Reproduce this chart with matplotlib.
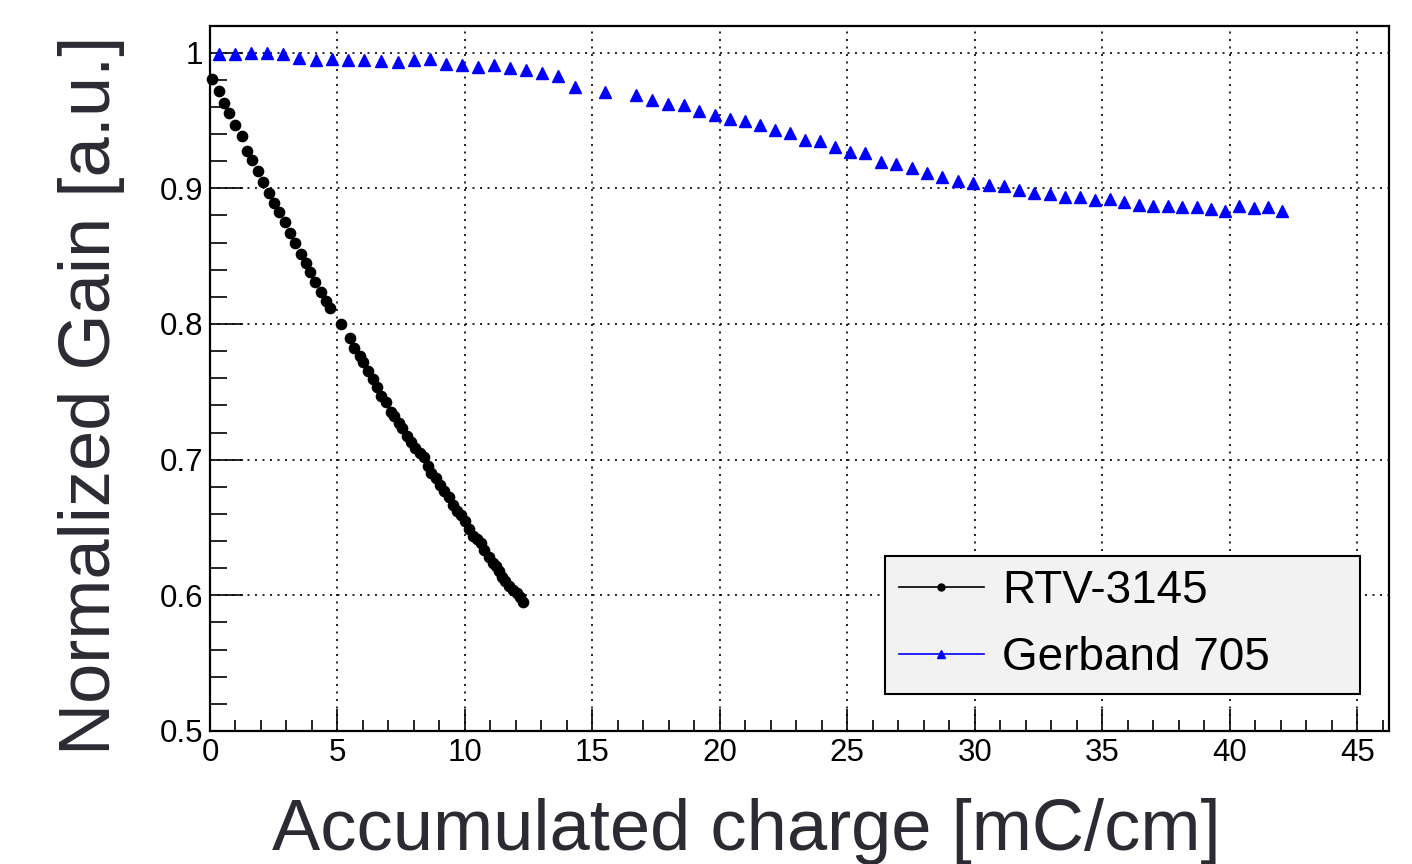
import matplotlib.pyplot as plt
from matplotlib.lines import Line2D
from matplotlib.ticker import MultipleLocator

plt.rcParams['font.family'] = ['Liberation Sans', 'DejaVu Sans']

# RTV-3145 (black circles)
rtv_charge = [0.09, 0.37, 0.55, 0.76, 0.99, 1.24, 1.46, 1.66, 1.88, 2.09, 2.30, 2.51,
              2.72, 2.93, 3.14, 3.35, 3.56, 3.76, 3.92, 4.13, 4.37, 4.55, 4.72, 5.12,
              5.50, 5.65, 5.87, 6.01, 6.21, 6.39, 6.55, 6.72, 6.90, 7.10, 7.23, 7.41,
              7.53, 7.71, 7.87, 8.04, 8.24, 8.39, 8.54, 8.68, 8.86, 9.02, 9.18, 9.36,
              9.54, 9.69, 9.83, 10.00, 10.17, 10.30, 10.47, 10.63, 10.76, 10.93, 11.09,
              11.22, 11.33, 11.45, 11.58, 11.74, 11.89, 12.05, 12.16, 12.29]
rtv_gain = [0.9808, 0.9717, 0.9628, 0.9554, 0.9463, 0.9382, 0.9276, 0.9205, 0.9128,
            0.9049, 0.8968, 0.8889, 0.8826, 0.8752, 0.8673, 0.8597, 0.8516, 0.8451,
            0.8385, 0.8309, 0.8239, 0.8168, 0.8119, 0.8003, 0.7897, 0.7826, 0.7764,
            0.7718, 0.7654, 0.7592, 0.7538, 0.7471, 0.7427, 0.7353, 0.7319, 0.7270,
            0.7230, 0.7176, 0.7131, 0.7087, 0.7046, 0.7018, 0.6952, 0.6903, 0.6861,
            0.6812, 0.6767, 0.6721, 0.6664, 0.6625, 0.6590, 0.6551, 0.6492, 0.6440,
            0.6413, 0.6388, 0.6332, 0.6280, 0.6241, 0.6219, 0.6182, 0.6134, 0.6103,
            0.6066, 0.6041, 0.6016, 0.5990, 0.5953]

# Gerband 705 (blue triangles)
gerband_charge = [0.35, 0.98, 1.60, 2.22, 2.88, 3.49, 4.14, 4.78, 5.42, 6.05, 6.71, 7.36,
                  8.00, 8.63, 9.27, 9.90, 10.52, 11.14, 11.76, 12.40, 13.03, 13.67, 14.33,
                  15.49, 16.73, 17.35, 17.96, 18.58, 19.19, 19.80, 20.40, 20.99, 21.59,
                  22.17, 22.76, 23.35, 23.92, 24.52, 25.10, 25.71, 26.31, 26.91, 27.52,
                  28.12, 28.72, 29.33, 29.95, 30.55, 31.15, 31.74, 32.34, 32.95, 33.54,
                  34.12, 34.72, 35.31, 35.87, 36.46, 37.01, 37.58, 38.14, 38.71, 39.25,
                  39.82, 40.38, 40.94, 41.50, 42.07]
gerband_gain = [0.9990, 0.9987, 0.9995, 1.0000, 0.9990, 0.9960, 0.9943, 0.9950, 0.9943,
                0.9948, 0.9936, 0.9928, 0.9948, 0.9953, 0.9914, 0.9909, 0.9894, 0.9911,
                0.9889, 0.9872, 0.9850, 0.9825, 0.9746, 0.9712, 0.9685, 0.9653, 0.9623,
                0.9611, 0.9569, 0.9542, 0.9513, 0.9493, 0.9465, 0.9426, 0.9406, 0.9357,
                0.9347, 0.9301, 0.9271, 0.9259, 0.9197, 0.9182, 0.9151, 0.9109, 0.9081,
                0.9057, 0.9042, 0.9022, 0.9018, 0.8988, 0.8968, 0.8961, 0.8939, 0.8934,
                0.8914, 0.8919, 0.8897, 0.8877, 0.8872, 0.8867, 0.8865, 0.8865, 0.8850,
                0.8830, 0.8867, 0.8855, 0.8865, 0.8835]

labels = ['RTV-3145', 'Gerband 705']
title_col = '#2b2b33'

fig = plt.figure(figsize=(14.12, 8.64), dpi=100)
ax = fig.add_axes([210 / 1412, 1 - 731 / 864, 1179 / 1412, 705 / 864])

ax.plot(rtv_charge, rtv_gain, linestyle='none', marker='o', ms=7.4,
        color='black', clip_on=False, zorder=3)
ax.plot(gerband_charge, gerband_gain, linestyle='none', marker='^', ms=8,
        color='blue', mec='blue', clip_on=False, zorder=3)

ax.set_xlim(0, 46.25)
ax.set_ylim(0.5, 1.0196)
ax.xaxis.set_major_locator(MultipleLocator(5))
ax.xaxis.set_minor_locator(MultipleLocator(1))
ax.yaxis.set_major_locator(MultipleLocator(0.1))
ax.yaxis.set_minor_locator(MultipleLocator(0.02))
ax.yaxis.set_major_formatter(plt.FuncFormatter(lambda v, p: f'{v:g}'))

ax.tick_params(axis='both', which='both', direction='in', top=False, right=False,
               width=1.2, labelsize=22.5, colors='black')
ax.tick_params(axis='x', which='major', length=16, pad=5)
ax.tick_params(axis='x', which='minor', length=8)
ax.tick_params(axis='y', which='major', length=24, pad=5)
ax.tick_params(axis='y', which='minor', length=12)

ax.grid(True, which='major', color='black', linestyle=(0, (1.2, 3.3)), linewidth=1.2)
for s in ax.spines.values():
    s.set_linewidth(1.6)
    s.set_color('black')

ax.text(0.4546, -0.1687, 'Accumulated charge [mC/cm]', transform=ax.transAxes,
        ha='center', va='baseline', fontsize=52, color=title_col)
ax.text(-0.0848, 0.476, 'Normalized Gain [a.u.]', transform=ax.transAxes,
        ha='center', va='baseline', rotation=90, rotation_mode='anchor',
        fontsize=52, color=title_col)

handles = [Line2D([], [], color='black', marker='o', ms=5, lw=1.2),
           Line2D([], [], color='blue', marker='^', ms=6, lw=1.2)]
leg = ax.legend(handles, labels, loc='lower left',
                bbox_to_anchor=(885 / 1412, 1 - 694 / 864, 475 / 1412, 139 / 864),
                bbox_transform=fig.transFigure, mode='expand', borderaxespad=0,
                fontsize=33, handlelength=1.85, handletextpad=0.4, borderpad=0.3,
                labelspacing=0.5, fancybox=False, framealpha=1,
                facecolor='#f2f2f2', edgecolor='black')
leg.get_frame().set_linewidth(1.5)

fig.savefig('out.png', dpi=100)
